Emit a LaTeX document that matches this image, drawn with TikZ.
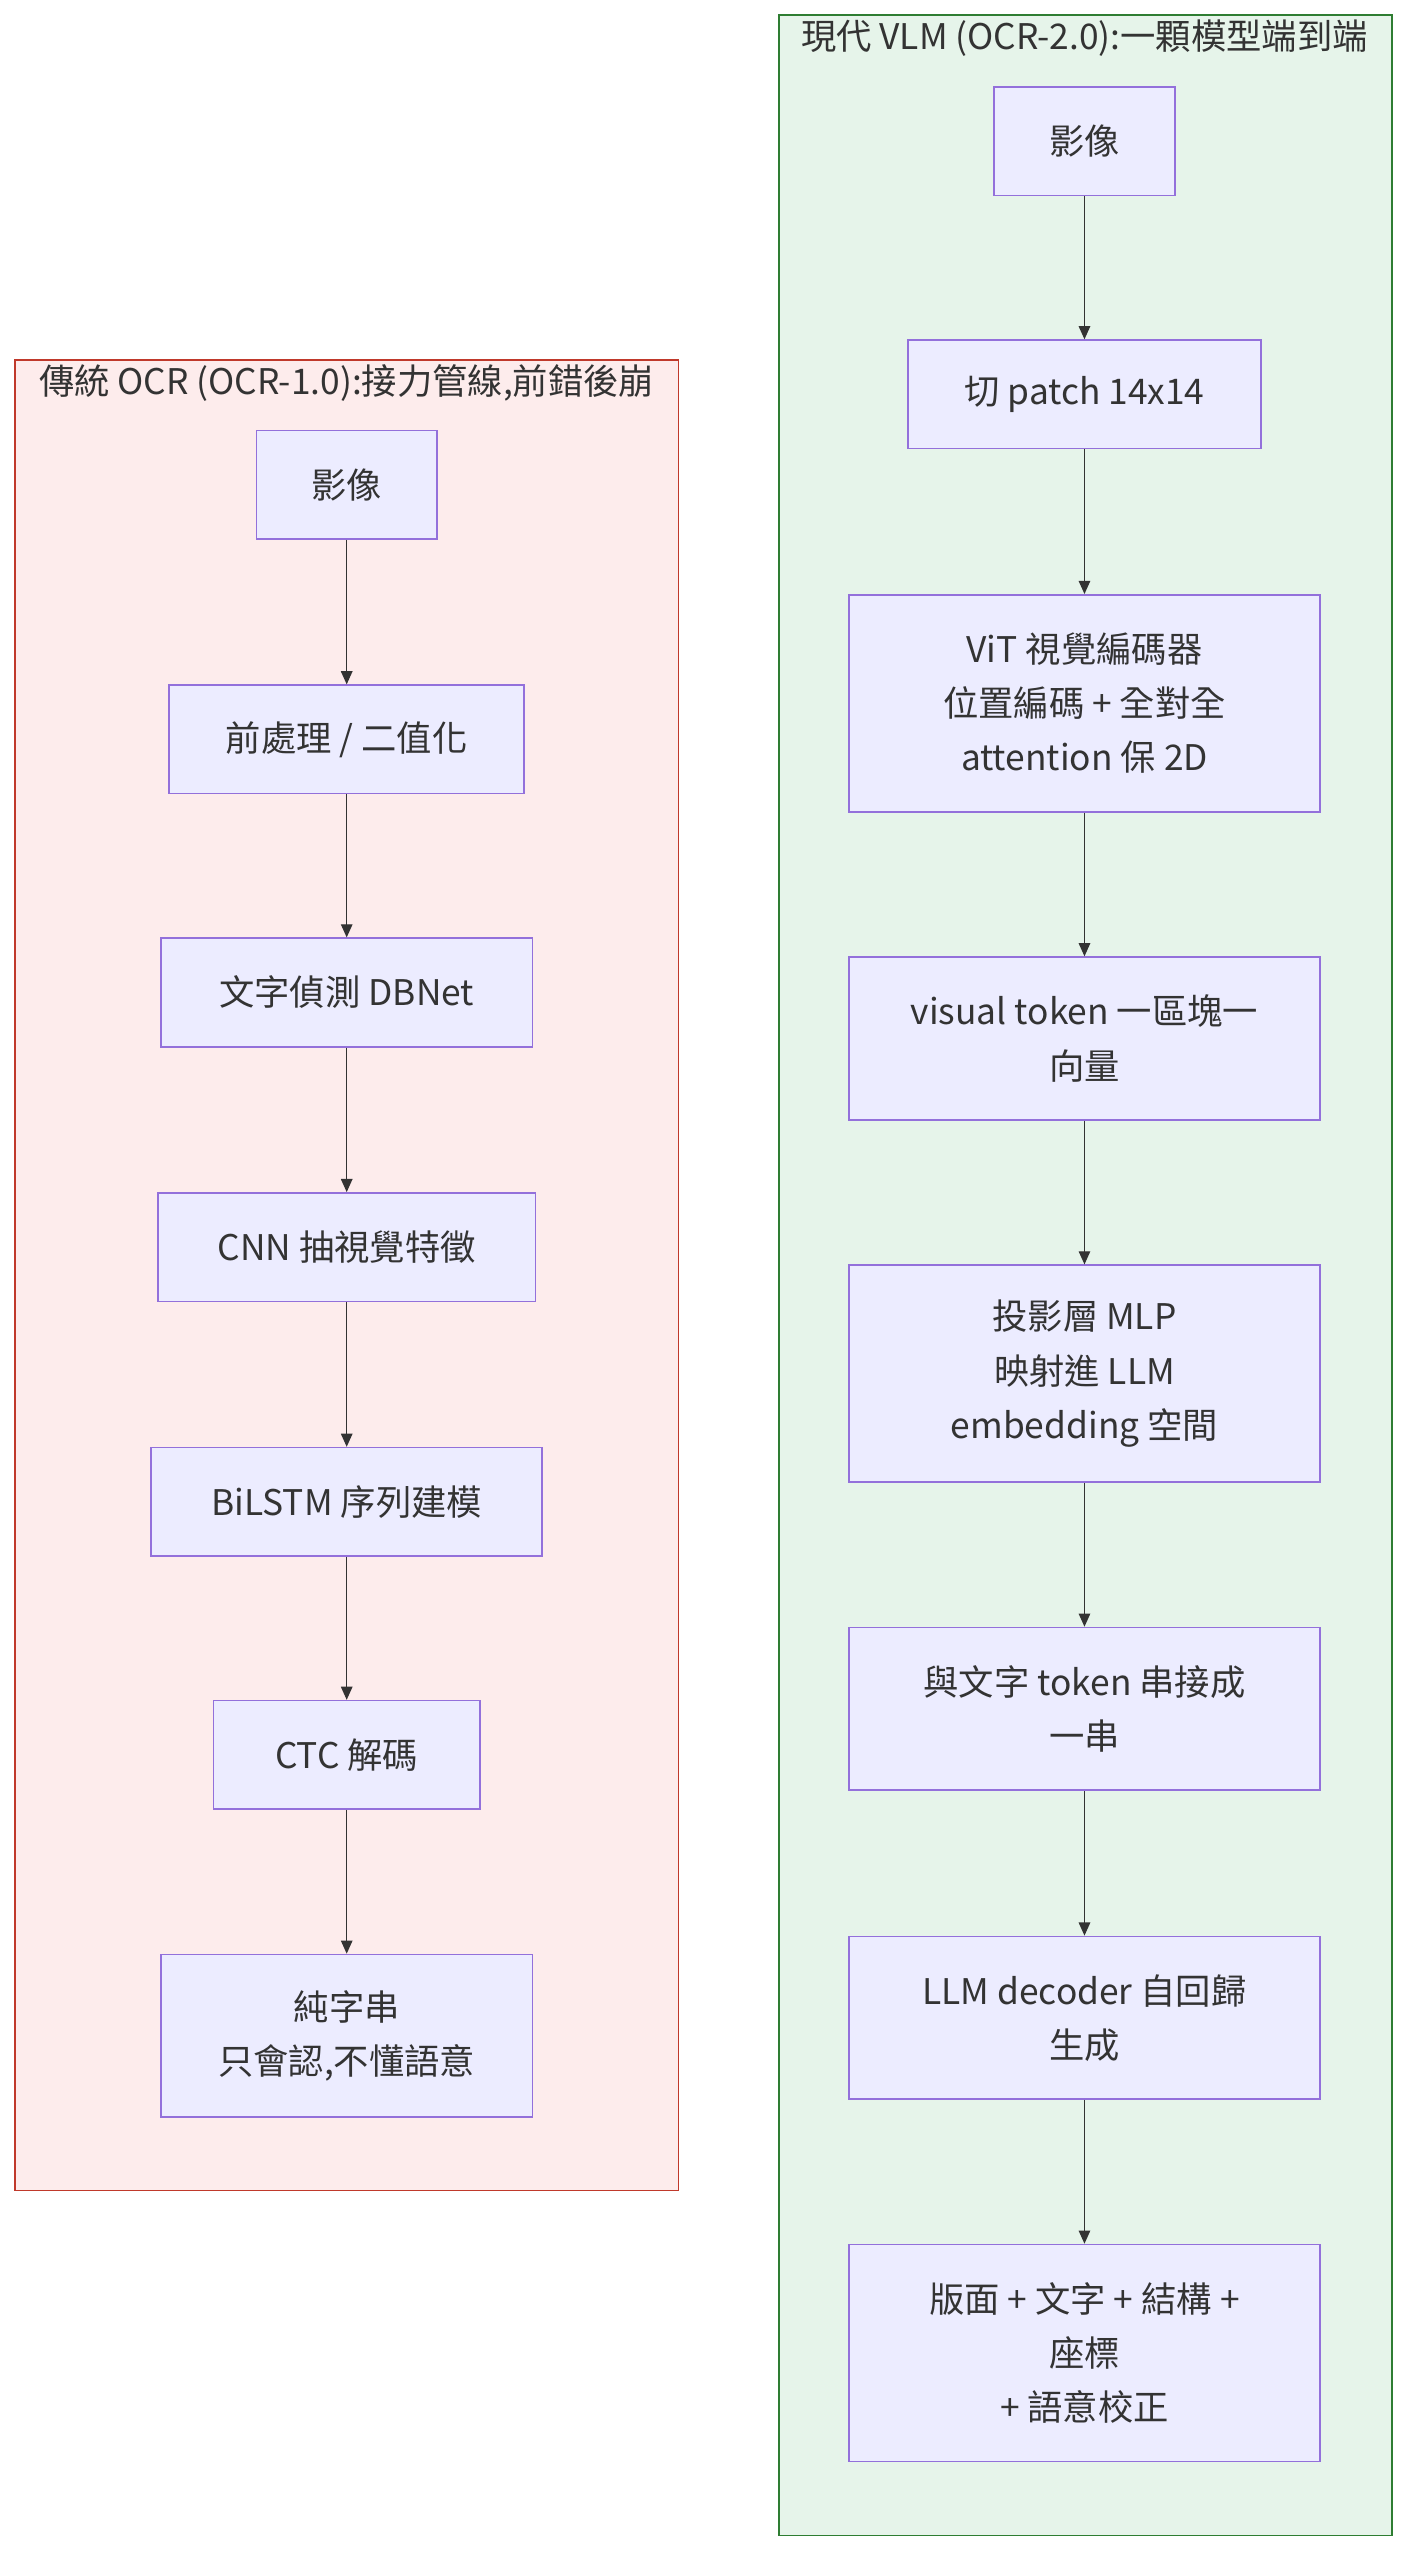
\documentclass[tikz,border=0pt]{standalone}
\usepackage{fontspec}
\setmainfont{Noto Sans CJK TC}
\usetikzlibrary{arrows.meta}
\definecolor{boxfill}{HTML}{ECECFF}
\definecolor{boxline}{HTML}{9370DB}
\definecolor{oldfill}{HTML}{FDECEC}
\definecolor{oldline}{HTML}{C0392B}
\definecolor{newfill}{HTML}{E6F4EA}
\definecolor{newline}{HTML}{2E7D32}
\definecolor{ink}{HTML}{333333}
\tikzset{
  stepbox/.style={draw=boxline, fill=boxfill, line width=1pt, align=center,
    text=ink, font=\fontsize{21.5}{33}\selectfont, inner sep=0pt},
  flow/.style={draw=ink, line width=0.8pt, -{Triangle[length=8pt,width=7pt]}},
  grouptitle/.style={text=ink, font=\fontsize{21.5}{24}\selectfont, inner sep=0pt}
}
\begin{document}
\begin{tikzpicture}[x=1pt,y=1pt]
\useasboundingbox (0,0) rectangle (860,-1558);
% clusters
\draw[draw=oldline, fill=oldfill, line width=1pt] (9,-219) rectangle (413,-1333);
\node[grouptitle] (oldtitle) at (211,-233) {傳統 OCR (OCR-1.0):接力管線,前錯後崩};
\draw[draw=newline, fill=newfill, line width=1pt] (474,-9) rectangle (847,-1543);
\node[grouptitle] (newtitle) at (660,-23) {現代 VLM (OCR-2.0):一顆模型端到端};
% left pipeline
\node[stepbox, minimum width=110, minimum height=66] (a1) at (211,-295) {影像};
\node[stepbox, minimum width=216, minimum height=66] (a2) at (211,-450) {前處理 / 二值化};
\node[stepbox, minimum width=226, minimum height=66] (a3) at (211,-604) {文字偵測 DBNet};
\node[stepbox, minimum width=230, minimum height=66] (a4) at (211,-759) {CNN 抽視覺特徵};
\node[stepbox, minimum width=238, minimum height=66] (a5) at (211,-914) {BiLSTM 序列建模};
\node[stepbox, minimum width=162, minimum height=66] (a6) at (211,-1068) {CTC 解碼};
\node[stepbox, minimum width=226, minimum height=99] (a7) at (211,-1239) {純字串\\只會認,不懂語意};
% right pipeline
\node[stepbox, minimum width=110, minimum height=66] (b1) at (660,-86) {影像};
\node[stepbox, minimum width=215, minimum height=66] (b2) at (660,-240) {切 patch 14x14};
\node[stepbox, minimum width=287, minimum height=132] (b3) at (660,-428) {ViT 視覺編碼器\\位置編碼 + 全對全\\attention 保 2D};
\node[stepbox, minimum width=287, minimum height=99] (b4) at (660,-632) {visual token 一區塊一\\向量};
\node[stepbox, minimum width=287, minimum height=132] (b5) at (660,-836) {投影層 MLP\\映射進 LLM\\embedding 空間};
\node[stepbox, minimum width=287, minimum height=99] (b6) at (660,-1040) {與文字 token 串接成\\一串};
\node[stepbox, minimum width=287, minimum height=99] (b7) at (660,-1228) {LLM decoder 自回歸\\生成};
\node[stepbox, minimum width=287, minimum height=132] (b8) at (660,-1432) {版面 + 文字 + 結構 +\\座標\\+ 語意校正};
% connectors
\foreach \s/\t in {a1/a2,a2/a3,a3/a4,a4/a5,a5/a6,a6/a7,b1/b2,b2/b3,b3/b4,b4/b5,b5/b6,b6/b7,b7/b8}
  \draw[flow] (\s) -- (\t);
\end{tikzpicture}
\end{document}
